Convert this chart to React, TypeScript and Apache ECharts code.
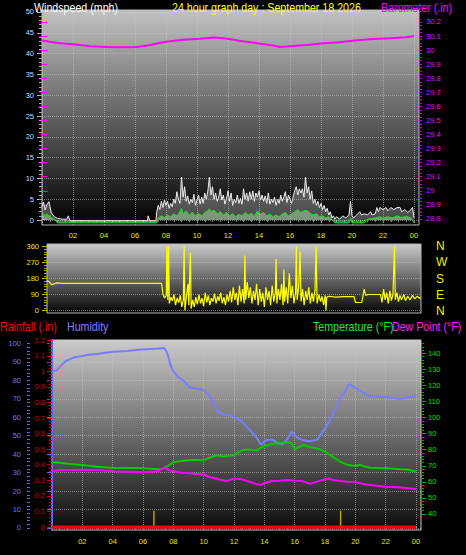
import { useEffect, useRef } from 'react';
import * as echarts from 'echarts';

// ---------- tick labels ----------
const hourTicks = [0, 2, 4, 6, 8, 10, 12, 14, 16, 18, 20, 22, 24];
const windTicks = [0, 5, 10, 15, 20, 25, 30, 35, 40, 45, 50];
const baroTicks = [28.8, 28.9, 29, 29.1, 29.2, 29.3, 29.4, 29.5, 29.6, 29.7, 29.8, 29.9, 30, 30.1, 30.2];
const dirTicks = [0, 90, 180, 270, 360];
const dirNames = ['N', 'E', 'S', 'W', 'N'];
const rainTicks = [0, 0.1, 0.2, 0.3, 0.4, 0.5, 0.6, 0.7, 0.8, 0.9, 1, 1.1, 1.2];
const humTicks = [0, 10, 20, 30, 40, 50, 60, 70, 80, 90, 100];
const tempTicks = [40, 50, 60, 70, 80, 90, 100, 110, 120, 130, 140];

// ---------- data: [hour, value] ----------
const barometer: [number, number][] = [
  [0, 30.068], [0.6, 30.058], [1.2, 30.049], [2, 30.042], [2.6, 30.034], [3.1, 30.027], [4.2, 30.022], [5.25, 30.02],
  [6.1, 30.022], [7, 30.037], [7.5, 30.048], [8, 30.06], [9.1, 30.074], [10.2, 30.081], [11.05, 30.089], [11.7, 30.084],
  [12.3, 30.075], [12.8, 30.065], [13.85, 30.049], [14.9, 30.032], [15.35, 30.022], [16.2, 30.03], [17.1, 30.037],
  [18.15, 30.049], [19.2, 30.056], [20.3, 30.07], [21.4, 30.079], [22.45, 30.084], [23.5, 30.091], [24, 30.1],
];

const windGust: [number, number][] = [
  [0, 3.2], [0.1, 4.3], [0.2, 2.4], [0.3, 3.6], [0.45, 4.4], [0.6, 1.7], [0.8, 0.8], [1.0, 0.4], [1.3, 0.2], [1.6, 0.2],
  [1.7, 1.0], [1.8, -0.2], [6.8, -0.2], [6.85, 1.0], [6.95, -0.2], [7.35, -0.2],
  [7.4, 2.0], [7.5, 3.5], [7.6, 2.5], [7.7, 4.5], [7.8, 3.0], [7.9, 4.8], [8.0, 3.5], [8.1, 4.5], [8.2, 2.8], [8.3, 4.0],
  [8.4, 3.2], [8.5, 5.0], [8.6, 4.0], [8.7, 6.8], [8.8, 5.0], [8.9, 4.0], [9.0, 10.3], [9.1, 5.5], [9.2, 8.0], [9.3, 4.5],
  [9.4, 5.8], [9.5, 3.8], [9.6, 5.0], [9.7, 4.2], [9.8, 6.2], [9.9, 3.5], [10.0, 4.8], [10.1, 6.0], [10.2, 3.8], [10.3, 5.5],
  [10.4, 4.0], [10.5, 6.5], [10.6, 5.0], [10.7, 7.0], [10.8, 10.3], [10.9, 6.0], [11.0, 8.0], [11.1, 5.0], [11.2, 6.5],
  [11.3, 4.5], [11.4, 5.5], [11.5, 7.5], [11.6, 4.8], [11.7, 6.0], [11.8, 3.8], [11.9, 5.2], [12.0, 7.0], [12.1, 4.5],
  [12.2, 6.5], [12.3, 3.5], [12.4, 5.0], [12.5, 4.2], [12.6, 6.0], [12.7, 4.0], [12.8, 5.2], [12.9, 3.8], [13.0, 7.5],
  [13.1, 5.0], [13.2, 6.5], [13.3, 4.5], [13.4, 6.8], [13.5, 5.0], [13.6, 7.0], [13.7, 4.5], [13.8, 6.5], [13.9, 5.5],
  [14.0, 7.0], [14.1, 4.8], [14.2, 6.0], [14.3, 4.5], [14.4, 5.8], [14.5, 4.0], [14.6, 6.5], [14.7, 3.8], [14.8, 5.0],
  [14.9, 4.2], [15.0, 5.5], [15.1, 3.5], [15.2, 5.0], [15.3, 4.0], [15.4, 6.0], [15.5, 4.5], [15.6, 5.5], [15.7, 6.8],
  [15.8, 4.2], [15.9, 6.0], [16.0, 5.0], [16.1, 4.0], [16.2, 5.5], [16.3, 7.0], [16.4, 8.0], [16.5, 6.0], [16.6, 7.5],
  [16.7, 6.5], [16.8, 7.5], [16.9, 5.5], [17.0, 10.3], [17.1, 6.5], [17.2, 8.0], [17.3, 5.0], [17.4, 7.0], [17.5, 4.0],
  [17.6, 5.0], [17.7, 3.5], [17.8, 4.5], [17.9, 3.0], [18.0, 4.0], [18.1, 2.5], [18.2, 3.5], [18.3, 2.0], [18.4, 2.8],
  [18.5, 1.2], [18.6, 2.0], [18.7, 0.5], [18.8, 1.0], [18.9, 0.2], [19.0, 0.8], [19.2, 0.2], [19.4, 1.0], [19.6, 0.5],
  [19.8, 1.2], [19.9, 4.5], [20.0, 1.0], [20.1, 0.5], [20.3, 1.2], [20.5, 2.0], [20.6, 1.2], [20.8, 1.5], [21.0, 1.2],
  [21.2, 2.0], [21.3, 1.2], [21.5, 1.5], [21.6, 3.0], [21.7, 2.0], [21.8, 3.0], [22.0, 2.5], [22.2, 3.0], [22.3, 2.2],
  [22.5, 3.0], [22.7, 2.5], [22.9, 3.0], [23.1, 3.0], [23.2, 2.0], [23.4, 2.5], [23.6, 1.8], [23.8, 2.5], [23.9, 3.0], [24.0, 0.5],
];

const windAvg: [number, number][] = [
  [0, 1.0], [0.1, 1.5], [0.2, 0.8], [0.3, 1.5], [0.4, 1.0], [0.5, 1.2], [0.6, 0.5], [0.8, 0.2], [1.0, -0.7], [7.4, -0.7],
  [7.5, 0.5], [7.7, 1.0], [7.9, 0.6], [8.1, 1.2], [8.3, 0.8], [8.5, 1.5], [8.7, 1.0], [8.9, 2.0], [9.0, 2.8], [9.1, 1.5],
  [9.3, 2.2], [9.5, 1.2], [9.7, 1.8], [9.9, 1.0], [10.1, 1.6], [10.3, 1.0], [10.5, 1.8], [10.7, 2.2], [10.8, 2.7], [10.9, 2.0],
  [11.1, 2.4], [11.3, 1.5], [11.5, 2.0], [11.7, 1.2], [11.9, 1.8], [12.1, 1.0], [12.3, 1.5], [12.5, 0.8], [12.7, 1.4],
  [12.9, 1.0], [13.1, 1.8], [13.3, 1.2], [13.5, 1.6], [13.7, 1.0], [13.9, 2.2], [14.1, 1.4], [14.3, 1.8], [14.5, 1.0],
  [14.7, 1.5], [14.9, 0.8], [15.1, 1.2], [15.3, 0.8], [15.5, 1.5], [15.7, 1.8], [15.9, 1.0], [16.1, 1.5], [16.3, 2.0],
  [16.5, 2.5], [16.7, 1.8], [16.9, 2.2], [17.1, 2.3], [17.3, 1.6], [17.5, 1.2], [17.7, 1.5], [17.9, 0.8], [18.1, 1.0],
  [18.3, 0.5], [18.5, 0.8], [18.7, 0.2], [18.9, -0.7], [19.8, -0.7], [19.9, 0.5], [20.0, -0.7], [20.8, -0.7], [21.0, 0.2],
  [21.5, 0.5], [21.8, 0.8], [22.0, 0.4], [22.3, 0.8], [22.6, 0.5], [22.9, 1.0], [23.2, 0.6], [23.5, 0.9], [23.8, 0.5], [24.0, -0.7],
];

const windDir: [number, number][] = [
  [0, 168], [0.15, 160], [0.3, 145], [0.45, 150], [0.6, 155], [1.0, 153], [7.35, 153],
  [7.45, 90], [7.55, 70], [7.65, 85], [7.7, 360], [7.75, 60], [7.8, 360], [7.85, 40], [7.95, 75], [8.05, 55], [8.15, 90],
  [8.25, 30], [8.35, 70], [8.45, 45], [8.55, 85], [8.65, 20], [8.75, 60], [8.8, 360], [8.85, 0], [8.95, 80], [9.05, 150],
  [9.1, 30], [9.2, 325], [9.25, 10], [9.35, 60], [9.45, 20], [9.55, 75], [9.65, 35], [9.75, 90], [9.85, 40], [9.95, 70],
  [10.05, 25], [10.15, 100], [10.25, 45], [10.35, 85], [10.45, 30], [10.55, 70], [10.65, 50], [10.75, 95], [10.85, 40],
  [10.95, 80], [11.05, 55], [11.15, 100], [11.25, 40], [11.35, 75], [11.45, 30], [11.55, 90], [11.65, 50], [11.75, 110],
  [11.85, 45], [11.95, 130], [12.05, 60], [12.15, 100], [12.25, 30], [12.35, 140], [12.45, 50], [12.55, 120], [12.65, 40],
  [12.7, 310], [12.75, 60], [12.85, 160], [12.95, 70], [13.05, 130], [13.15, 40], [13.25, 110], [13.35, 60], [13.45, 150],
  [13.55, 30], [13.65, 120], [13.75, 50], [13.85, 100], [13.95, 20], [14.05, 130], [14.15, 60], [14.25, 110], [14.35, 30],
  [14.45, 140], [14.55, 50], [14.65, 100], [14.7, 290], [14.75, 40], [14.85, 120], [14.95, 60], [15.05, 150], [15.15, 30],
  [15.2, 230], [15.25, 50], [15.35, 130], [15.45, 40], [15.55, 210], [15.65, 70], [15.75, 140], [15.85, 40], [15.95, 100],
  [16.0, 360], [16.05, 60], [16.15, 130], [16.24, 330], [16.3, 50], [16.4, 120], [16.5, 30], [16.6, 110], [16.7, 60],
  [16.8, 130], [16.9, 40], [17.0, 100], [17.1, 50], [17.2, 120], [17.27, 360], [17.33, 40], [17.45, 90], [17.55, 50],
  [17.65, 80], [17.75, 30], [17.85, 85], [17.9, 0], [17.95, 75], [18.1, 80], [18.5, 75], [19.0, 78], [19.7, 78],
  [19.8, 45], [20.2, 45], [20.35, 120], [20.45, 85], [20.6, 90], [21.4, 90], [21.5, 45], [21.6, 120], [21.7, 60],
  [21.8, 100], [21.9, 40], [22.0, 110], [22.1, 55], [22.2, 90], [22.3, 360], [22.35, 60], [22.45, 100], [22.55, 50],
  [22.65, 85], [22.75, 60], [22.9, 90], [23.0, 55], [23.15, 80], [23.3, 60], [23.45, 85], [23.6, 65], [23.75, 80], [23.9, 70], [24.0, 70],
];

const humidity: [number, number][] = [
  [0, 85], [0.3, 85.5], [0.6, 88], [0.9, 90.4], [1.2, 91.5], [1.5, 92.6], [2.0, 93.2], [2.5, 94], [3.0, 94.3], [3.5, 95],
  [4.0, 95.5], [5.0, 96], [5.8, 96.7], [6.5, 97], [7.0, 97.3], [7.4, 97.6], [7.6, 95], [7.8, 88.6], [8.0, 85], [8.3, 82],
  [8.7, 79.6], [9.1, 76], [9.5, 75.5], [10.0, 75], [10.4, 71.4], [10.7, 67], [10.9, 63.3], [11.1, 62.5], [11.3, 61.5],
  [11.7, 61], [12.0, 60.5], [12.5, 57.8], [13.0, 53.4], [13.4, 50], [13.8, 45.2], [14.1, 47.5], [14.5, 48], [14.8, 46.5],
  [15.2, 45.4], [15.5, 48], [15.8, 52.4], [16.2, 48.8], [16.6, 47.5], [17.0, 47], [17.5, 48], [18.0, 54], [18.3, 57.8],
  [18.6, 63], [19.0, 70], [19.3, 74], [19.6, 78], [19.9, 76.5], [20.2, 75], [20.6, 73], [21.0, 71.5], [21.5, 71],
  [22.0, 71], [22.5, 70.5], [23.0, 70], [23.5, 71], [24.0, 71.4],
];

const temperature: [number, number][] = [
  [0, 72.2], [0.5, 71.8], [1, 71.3], [2, 70.5], [3, 69.4], [4, 68.6], [5, 68.6], [6, 68.4], [7, 67.8], [7.3, 68.2],
  [7.6, 69.6], [8, 72.2], [8.5, 73], [9, 73.4], [9.5, 73.8], [10, 73.4], [10.3, 74.7], [10.8, 76.5], [11.3, 75.7],
  [12, 76.7], [12.3, 78.5], [12.6, 79.8], [13, 80.2], [13.5, 79.4], [13.8, 81.5], [14, 82.3], [14.5, 83.6], [15, 84],
  [15.5, 84.8], [15.8, 84], [16, 80.2], [16.3, 81.8], [16.6, 83], [17, 81.5], [17.5, 80.8], [18, 78.8], [18.5, 75.7],
  [19, 72.5], [19.5, 70.5], [20, 69.9], [20.3, 70.6], [20.6, 69.6], [21, 68.8], [22, 68.4], [23, 67.8], [23.5, 67.6], [24, 66.3],
];

const dewPoint: [number, number][] = [
  [0, 66.8], [0.5, 67.2], [1, 67.4], [2, 67.4], [3, 67.4], [4, 66.6], [5, 66.3], [6, 66], [7, 66.6], [7.4, 68.8],
  [7.8, 67], [8.5, 65.7], [9, 65.5], [9.5, 64.9], [10, 64.6], [10.3, 63.2], [11, 61.6], [11.5, 60.5], [12, 62],
  [12.5, 61.6], [13, 60.1], [13.5, 58.5], [13.8, 58.2], [14, 59.1], [14.5, 60.5], [15, 60.7], [15.5, 61.2], [16, 60.7],
  [16.5, 60.5], [17, 58.7], [17.5, 60.1], [18, 61.6], [18.3, 62], [18.5, 61.2], [19, 60.5], [19.5, 60.1], [20, 59.9],
  [20.5, 58.7], [21, 58], [22, 57], [23, 56.4], [24, 55.6],
];

const rainfall: [number, number][] = [[0, 0], [24, 0]];
const sunMarks = [6.72, 19.03];
const sunMarkHeight = 0.105;

const title = '24 hour graph day : September 18 2026';

// ---------- helpers ----------
function steps(a: number, b: number, s: number): number[] {
  const out: number[] = [];
  const n = Math.round((b - a) / s);
  for (let i = 0; i <= n; i++) out.push(+(a + i * s).toFixed(4));
  return out;
}
const SANS = "'Liberation Sans', Arial, sans-serif";
const LBL = 7.5;
const grad = (top: string, bottom: string) =>
  new echarts.graphic.LinearGradient(0, 0, 0, 1, [
    { offset: 0, color: top },
    { offset: 1, color: bottom },
  ]);
const fmt = (v: number) => String(Math.round(v * 1000) / 1000);
const gridSplit = { show: true, lineStyle: { color: 'rgba(200,200,200,0.55)', type: 'dotted' as const, width: 1 } };

function tickAxis(grid: number, pos: string, min: number, max: number, values: number[], color: string, len: number, offset = 0) {
  return {
    type: 'value', gridIndex: grid, position: pos, offset, min, max,
    axisLine: { show: false },
    axisLabel: { show: false, customValues: values },
    axisTick: { show: true, customValues: values, length: len, lineStyle: { color, width: 1 } },
    splitLine: { show: false },
  };
}
function mainY(grid: number, pos: string, min: number, max: number, values: number[], color: string, tickColor: string, margin: number, split: boolean, offset = 0) {
  return {
    type: 'value', gridIndex: grid, position: pos, offset, min, max,
    axisLine: { show: false },
    axisLabel: { show: true, customValues: values, color, fontFamily: SANS, fontSize: LBL, margin, formatter: fmt },
    axisTick: { show: true, customValues: values, length: 5, lineStyle: { color: tickColor, width: 1 } },
    splitLine: split ? gridSplit : { show: false },
  };
}
function mainX(grid: number, max: number, margin: number) {
  return {
    type: 'value', gridIndex: grid, min: 0, max, position: 'bottom',
    axisLine: { show: false },
    axisLabel: {
      customValues: hourTicks.filter((h) => h > 0), color: '#e8e800', fontFamily: SANS, fontSize: LBL, margin,
      formatter: (v: number) => String(Math.round(v) % 24).padStart(2, '0'),
    },
    axisTick: { show: true, customValues: hourTicks, length: 3, lineStyle: { color: '#a0a0a0' } },
    splitLine: gridSplit,
  };
}
function minorX(grid: number, max: number) {
  return {
    type: 'value', gridIndex: grid, min: 0, max, position: 'bottom',
    axisLine: { show: false },
    axisLabel: { show: false, customValues: [] as number[] },
    axisTick: { show: true, customValues: steps(0, 24, 0.5), length: 2, lineStyle: { color: '#808080' } },
    splitLine: { show: false },
  };
}
function header(text: string, x: number, y: number, fill: string) {
  return {
    type: 'text', x, y, scaleX: 0.82, silent: true,
    style: { text, fill, fontFamily: SANS, fontSize: 13, verticalAlign: 'middle', align: 'left' },
  };
}

export default function App() {
  const ref = useRef<HTMLDivElement>(null);
  useEffect(() => {
    document.body.style.margin = '0';
    document.body.style.background = '#000';
    const chart = echarts.init(ref.current!, null, { renderer: 'svg', width: 466, height: 555 });
    const line = (name: string, x: number, y: number, data: any[], color: string, width: number, extra: any = {}) => ({
      name, type: 'line', xAxisIndex: x, yAxisIndex: y, data, symbol: 'none', showSymbol: false,
      lineStyle: { color, width }, itemStyle: { color }, silent: true, ...extra,
    });
    const sunData: any[] = [];
    sunMarks.forEach((h) => { sunData.push([h, 0], [h, sunMarkHeight], [h, '-']); });

    chart.setOption({
      animation: false,
      backgroundColor: '#000',
      grid: [
        { left: 42, right: 47, top: 10, height: 215, show: true, backgroundColor: grad('#c2c2c2', '#000000'), borderColor: '#b8b8b8', borderWidth: 1 },
        { left: 47, right: 45, top: 244, height: 69, show: true, backgroundColor: grad('#cacaca', '#060606'), borderColor: '#b8b8b8', borderWidth: 1 },
        { left: 52, right: 45, top: 340, height: 190, show: true, backgroundColor: grad('#cacaca', '#0c0c0c'), borderColor: '#c8c8c8', borderWidth: 1 },
      ],
      xAxis: [
        mainX(0, 24.32, 6),
        minorX(0, 24.32),
        { type: 'value', gridIndex: 1, min: 0, max: 24, show: false },
        mainX(2, 24.33, 7),
        minorX(2, 24.33),
      ],
      yAxis: [
        mainY(0, 'left', -1.2, 50.48, windTicks, '#c8dcff', '#c0c0c0', 8, true),
        mainY(0, 'right', 28.757, 30.285, baroTicks, '#ff00ff', '#ff00ff', 7, false),
        tickAxis(0, 'left', -1.2, 50.48, steps(0, 50, 1), '#a8a8a8', 3),
        tickAxis(0, 'right', 28.757, 30.285, steps(28.8, 30.2, 0.025), '#d000d0', 3),
        mainY(1, 'left', -14.06, 374.06, dirTicks, '#e8e800', '#c8c800', 8, true),
        tickAxis(1, 'left', -14.06, 374.06, steps(0, 360, 15), '#b0b000', 3),
        {
          type: 'value', gridIndex: 1, position: 'right', min: -14.06, max: 374.06,
          axisLine: { show: false }, axisTick: { show: false, customValues: dirTicks }, splitLine: { show: false },
          axisLabel: {
            customValues: dirTicks, color: '#f0f000', fontFamily: SANS, fontSize: 12, margin: 15,
            formatter: (v: number) => dirNames[dirTicks.indexOf(Math.round(v))] || '',
          },
        },
        mainY(2, 'left', -0.0192, 1.2013, rainTicks, '#d80000', '#e00000', 7, false),
        {
          ...mainY(2, 'left', -1.1, 101.9, humTicks, '#7070ff', '#6464ff', 9, true, 22),
          axisLine: { show: true, lineStyle: { color: '#6464ff', width: 2 } },
        },
        mainY(2, 'right', 30, 148.3, tempTicks, '#00e000', '#00c000', 7, false),
        tickAxis(2, 'left', -0.0192, 1.2013, steps(0, 1.2, 0.02), '#c00000', 3),
        tickAxis(2, 'left', -1.1, 101.9, steps(0, 100, 2), '#6464ff', 3, 22),
        tickAxis(2, 'right', 30, 148.3, steps(40, 146, 2), '#00b000', 3),
      ],
      series: [
        line('Barometer', 0, 1, barometer, '#ff00ff', 2),
        line('Gust', 0, 0, windGust, '#ececec', 1, { areaStyle: { color: 'rgba(210,210,210,0.5)' } }),
        line('Average', 0, 0, windAvg, '#22dd22', 1, { areaStyle: { color: 'rgba(190,250,190,0.6)' } }),
        line('Direction', 2, 4, windDir, '#ffff00', 1.2),
        line('Humidity', 3, 8, humidity, '#7b7bff', 2),
        line('Temperature', 3, 9, temperature, '#00cc00', 2),
        line('Dew Point', 3, 9, dewPoint, '#ff00ff', 2),
        line('Sun', 3, 7, sunData, '#b8a400', 1.5, { connectNulls: false }),
        line('Rainfall', 3, 7, rainfall, '#ff0000', 3),
      ],
      graphic: [
        header('Windspeed (mph)', 34, 7.5, '#ffffff'),
        header(title, 172, 7.5, '#ffff00'),
        header('Barometer (.in)', 381, 7.5, '#ff00ff'),
        header('Rainfall (.in)', 0, 326.5, '#ff0000'),
        header('Humidity', 67, 326.5, '#8080ff'),
        header('Temperature (°F)', 313, 326.5, '#22ee22'),
        header('Dew Point (°F)', 392, 326.5, '#ff22ff'),
      ],
    });
    return () => chart.dispose();
  }, []);
  return <div ref={ref} style={{ position: 'fixed', left: 0, top: 0, width: 466, height: 555, background: '#000' }} />;
}
